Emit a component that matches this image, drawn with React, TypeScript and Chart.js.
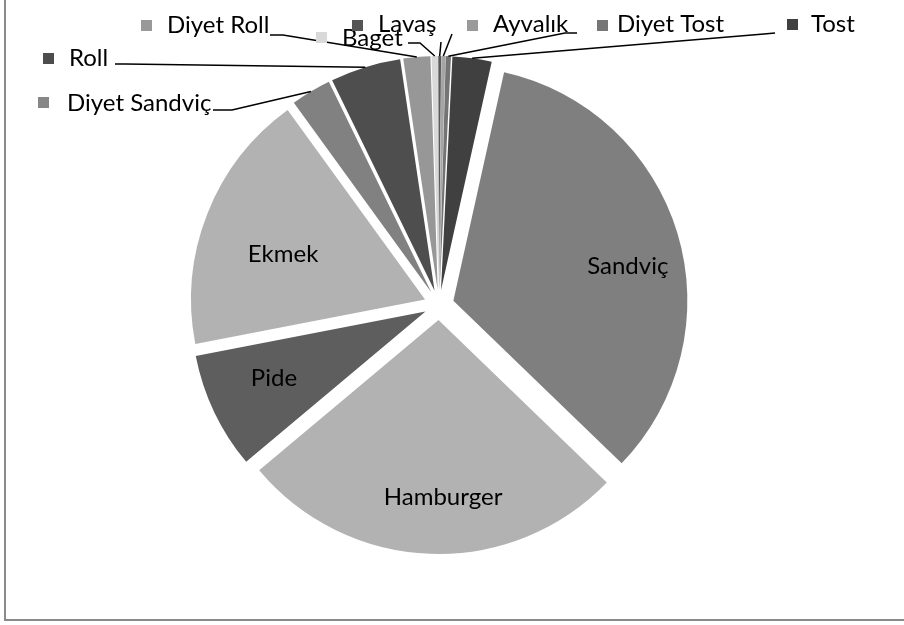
import React, { useEffect, useRef } from "react";
import { Chart, registerables } from "chart.js";

Chart.register(...registerables);

// ---- data ----
const categories = [
  "Tost",
  "Sandviç",
  "Hamburger",
  "Pide",
  "Ekmek",
  "Diyet Sandviç",
  "Roll",
  "Diyet Roll",
  "Baget",
  "Lavaş",
  "Ayvalık",
  "Diyet Tost",
];
const values = [2.7, 33.75, 26.67, 8.06, 18.06, 2.78, 4.86, 1.86, 0.44, 0.19, 0.28, 0.36];
const insideLabels = ["Sandviç", "Hamburger", "Pide", "Ekmek"];

// ---- styles ----
const sliceColors = [
  "#404040",
  "#7f7f7f",
  "#b2b2b2",
  "#5e5e5e",
  "#b2b2b2",
  "#818181",
  "#4e4e4e",
  "#979797",
  "#d9d9d9",
  "#5a5a5a",
  "#a5a5a5",
  "#747474",
];
const markerColors = [
  "#404040",
  "#7f7f7f",
  "#b2b2b2",
  "#5e5e5e",
  "#b2b2b2",
  "#878787",
  "#4d4d4d",
  "#999999",
  "#d9d9d9",
  "#555555",
  "#9a9a9a",
  "#767676",
];

const FONT = "Lato, 'Open Sans', sans-serif";
const FONT_SIZE = 24;
const EXPLODE = 15;
const RADIUS = 234;
const START_ANGLE = 2.8;

// inside label placement (radial fraction, angular nudge in degrees)
const INSIDE_POS: Record<string, { frac: number; dAng: number }> = {
  "Sandviç": { frac: 0.76, dAng: 5.5 },
  Hamburger: { frac: 0.756, dAng: -3.5 },
  Pide: { frac: 0.707, dAng: 1.8 },
  Ekmek: { frac: 0.637, dAng: -3.7 },
};

// callout layout (label box positions and leader stubs)
type Callout = { mx: number; my: number; tx: number; ty: number; path: [number, number][] };
const CALLOUTS: Record<string, Callout> = {
  "Diyet Sandviç": { mx: 38, my: 97, tx: 67, ty: 103, path: [[213, 110], [232, 110]] },
  Roll: { mx: 43, my: 53, tx: 69, ty: 58, path: [[115, 64], [125, 64]] },
  "Diyet Roll": { mx: 141, my: 20, tx: 167, ty: 25, path: [[270, 35], [283, 35]] },
  Baget: { mx: 316, my: 32, tx: 342, ty: 38, path: [[408, 43], [420, 43]] },
  "Lavaş": { mx: 352, my: 20, tx: 378, ty: 24, path: [[441, 42]] },
  "Ayvalık": { mx: 467, my: 20, tx: 493, ty: 24, path: [[452, 34]] },
  "Diyet Tost": { mx: 597, my: 20, tx: 617, ty: 24, path: [[577, 33], [565, 33]] },
  Tost: { mx: 787, my: 19, tx: 811, ty: 24, path: [[775, 33], [764, 34]] },
};

const bgPlugin = {
  id: "bg",
  beforeDraw(chart: any) {
    const ctx = chart.ctx;
    ctx.save();
    ctx.fillStyle = "#ffffff";
    ctx.fillRect(0, 0, chart.width, chart.height);
    ctx.restore();
  },
};

const explodePlugin = {
  id: "explode",
  beforeDatasetDraw(chart: any, args: any) {
    const ctx = chart.ctx;
    args.meta.data.forEach((arc: any) => {
      const mid = (arc.startAngle + arc.endAngle) / 2;
      ctx.save();
      ctx.translate(Math.cos(mid) * EXPLODE, Math.sin(mid) * EXPLODE);
      arc.draw(ctx);
      ctx.restore();
    });
    return false;
  },
};

const labelsPlugin = {
  id: "calloutLabels",
  afterDatasetsDraw(chart: any) {
    const ctx = chart.ctx;
    const meta = chart.getDatasetMeta(0);
    ctx.save();
    ctx.font = `${FONT_SIZE}px ${FONT}`;
    ctx.textBaseline = "middle";
    meta.data.forEach((arc: any, i: number) => {
      const name = categories[i];
      const mid = (arc.startAngle + arc.endAngle) / 2;
      const cx = arc.x + Math.cos(mid) * EXPLODE;
      const cy = arc.y + Math.sin(mid) * EXPLODE;
      if (insideLabels.includes(name)) {
        const p = INSIDE_POS[name] || { frac: 0.72, dAng: 0 };
        const a = mid + (p.dAng * Math.PI) / 180;
        const d = arc.outerRadius * p.frac;
        ctx.fillStyle = "#000000";
        ctx.textAlign = "center";
        ctx.fillText(name, cx + Math.cos(a) * d, cy + Math.sin(a) * d);
        return;
      }
      const c = CALLOUTS[name];
      if (!c) return;
      // leader line
      const ex = cx + Math.cos(mid) * arc.outerRadius;
      const ey = cy + Math.sin(mid) * arc.outerRadius;
      ctx.strokeStyle = "#000000";
      ctx.lineWidth = 1.5;
      ctx.beginPath();
      ctx.moveTo(c.path[0][0], c.path[0][1]);
      for (let k = 1; k < c.path.length; k++) ctx.lineTo(c.path[k][0], c.path[k][1]);
      ctx.lineTo(ex, ey);
      ctx.stroke();
      // marker
      ctx.fillStyle = markerColors[i];
      ctx.fillRect(c.mx, c.my, 11, 11);
      // text
      ctx.fillStyle = "#000000";
      ctx.textAlign = "left";
      ctx.fillText(name, c.tx, c.ty);
    });
    ctx.restore();
  },
};

const framePlugin = {
  id: "frame",
  afterDraw(chart: any) {
    const ctx = chart.ctx;
    ctx.save();
    ctx.strokeStyle = "#8a8a8a";
    ctx.lineWidth = 2;
    ctx.beginPath();
    ctx.moveTo(5, 0);
    ctx.lineTo(5, 620);
    ctx.lineTo(chart.width, 620);
    ctx.stroke();
    ctx.restore();
  },
};

export default function App() {
  const ref = useRef<HTMLCanvasElement>(null);
  useEffect(() => {
    document.body.style.margin = "0";
    const chart = new Chart(ref.current as HTMLCanvasElement, {
      type: "pie",
      data: {
        labels: categories,
        datasets: [
          {
            data: values,
            backgroundColor: sliceColors,
            borderWidth: 0,
          },
        ],
      },
      options: {
        responsive: false,
        animation: false,
        events: [],
        rotation: START_ANGLE,
        radius: RADIUS,
        layout: { padding: { left: 0, right: 26, top: 0, bottom: 15 } },
        plugins: {
          legend: { display: false },
          tooltip: { enabled: false },
        },
      } as any,
      plugins: [bgPlugin, explodePlugin, labelsPlugin, framePlugin],
    });
    return () => chart.destroy();
  }, []);
  return (
    <div style={{ position: "absolute", left: 0, top: 0, width: 904, height: 625 }}>
      <canvas ref={ref} width={904} height={625} style={{ display: "block" }} />
    </div>
  );
}
